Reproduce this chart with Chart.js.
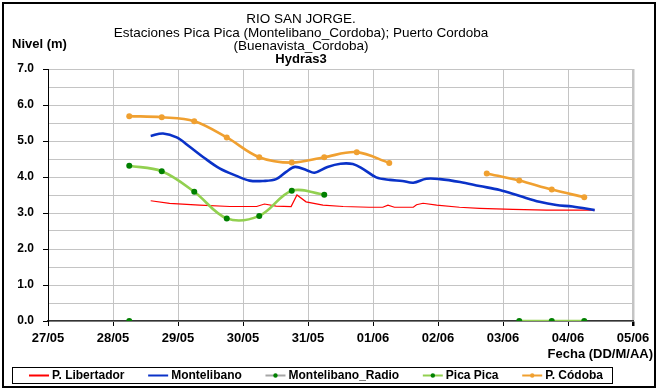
<!DOCTYPE html>
<html>
<head>
<meta charset="utf-8">
<script src="https://cdn.jsdelivr.net/npm/chart.js@4/dist/chart.umd.min.js"></script>
<style>
  html, body { margin: 0; padding: 0; background: #fff; }
  #wrap { width: 658px; height: 389px; position: relative; }
</style>
</head>
<body>
<div id="wrap"><canvas id="grafico" width="658" height="389"></canvas></div>
<script>
// Etiquetas del eje de fechas (un día por división)
const fechas = ['27/05', '28/05', '29/05', '30/05', '31/05', '01/06', '02/06', '03/06', '04/06', '05/06'];

// Tiempos expresados en días contados desde el 27/05 a las 00:00
const tLibertador = [1.58, 1.87, 2.33, 2.80, 3.21, 3.33, 3.51, 3.74, 3.83, 3.97, 4.23, 4.54, 4.94, 5.15, 5.23, 5.33, 5.62, 5.67, 5.77, 5.98, 6.33, 6.64, 7.15, 7.67, 8.41];
const nivelLibertador = [3.34, 3.27, 3.22, 3.18, 3.18, 3.25, 3.19, 3.18, 3.50, 3.31, 3.22, 3.18, 3.16, 3.16, 3.22, 3.16, 3.16, 3.23, 3.27, 3.22, 3.16, 3.13, 3.10, 3.08, 3.08];

const tMontelibano = [1.58, 1.77, 1.98, 2.18, 2.39, 2.64, 2.90, 3.10, 3.31, 3.51, 3.67, 3.80, 3.98, 4.10, 4.30, 4.50, 4.69, 4.85, 5.05, 5.26, 5.45, 5.62, 5.82, 6.03, 6.34, 6.64, 6.95, 7.26, 7.56, 7.82, 8.07, 8.41];
const nivelMontelibano = [5.14, 5.21, 5.10, 4.84, 4.55, 4.24, 4.03, 3.90, 3.89, 3.94, 4.15, 4.28, 4.19, 4.12, 4.28, 4.37, 4.36, 4.22, 3.99, 3.92, 3.89, 3.84, 3.95, 3.94, 3.86, 3.75, 3.64, 3.47, 3.31, 3.22, 3.18, 3.08];

const tRadio = [1.25];
const nivelRadio = [0.0];

const tPicaPica = [1.25, 1.75, 2.25, 2.75, 3.25, 3.75, 4.25, 4.75, 5.25, 5.75, 6.25, 6.75, 7.25, 7.75, 8.25];
const nivelPicaPica = [4.31, 4.16, 3.59, 2.85, 2.92, 3.62, 3.51, null, null, null, null, null, 0.0, 0.0, 0.0];

const tCordoba = [1.25, 1.75, 2.25, 2.75, 3.25, 3.75, 4.25, 4.75, 5.25, 5.75, 6.25, 6.75, 7.25, 7.75, 8.25];
const nivelCordoba = [5.69, 5.66, 5.55, 5.10, 4.55, 4.40, 4.55, 4.69, 4.39, null, null, 4.10, 3.90, 3.65, 3.44];

const FUENTE = '"Liberation Sans", Arial, sans-serif';

function serie(t, v) {
  return t.map((x, i) => ({ x: x, y: v[i] }));
}

// Títulos, rótulos de ejes, leyenda y marco exterior
const decorado = {
  id: 'decorado',
  afterDraw(chart) {
    const ctx = chart.ctx;
    ctx.save();
    ctx.fillStyle = '#000';
    ctx.textAlign = 'center';
    ctx.textBaseline = 'middle';
    ctx.font = '13.5px ' + FUENTE;
    ctx.fillText('RIO SAN JORGE.', 301, 19);
    ctx.fillText('Estaciones Pica Pica (Montelibano_Cordoba); Puerto Cordoba', 301, 33);
    ctx.fillText('(Buenavista_Cordoba)', 301, 46);
    ctx.font = 'bold 13px ' + FUENTE;
    ctx.fillText('Hydras3', 301, 59);

    ctx.textAlign = 'left';
    ctx.font = 'bold 13px ' + FUENTE;
    ctx.fillText('Nivel (m)', 12, 44);
    ctx.textAlign = 'right';
    ctx.fillText('Fecha (DD/M/AA)', 653, 354);

    // Leyenda
    const bx = 12, by = 367, bw = 600, bh = 16;
    ctx.strokeStyle = '#000';
    ctx.lineWidth = 1;
    ctx.strokeRect(bx + 0.5, by + 0.5, bw, bh);
    ctx.font = 'bold 12px ' + FUENTE;
    const muestra = 20, sep = 3;
    const items = chart.data.datasets.map(ds => ({
      texto: ds.label,
      color: ds.borderColor,
      punto: ds.pointRadius > 0 ? ds.pointBackgroundColor : null,
      ancho: muestra + sep + ctx.measureText(ds.label).width
    }));
    const x0 = 29, x1 = 603;
    const total = items.reduce((s, it) => s + it.ancho, 0);
    const hueco = (x1 - x0 - total) / (items.length - 1);
    let x = x0;
    const yc = by + bh / 2 + 0.5;
    ctx.textAlign = 'left';
    items.forEach(it => {
      ctx.strokeStyle = it.color;
      ctx.lineWidth = 2;
      ctx.beginPath();
      ctx.moveTo(x, yc);
      ctx.lineTo(x + muestra, yc);
      ctx.stroke();
      if (it.punto) {
        ctx.fillStyle = it.punto;
        ctx.beginPath();
        ctx.arc(x + muestra / 2, yc, 2.2, 0, Math.PI * 2);
        ctx.fill();
      }
      ctx.fillStyle = '#000';
      ctx.fillText(it.texto, x + muestra + sep, yc + 0.5);
      x += it.ancho + hueco;
    });

    // Marco exterior
    ctx.strokeStyle = '#000';
    ctx.lineWidth = 2;
    ctx.strokeRect(3, 3, 652, 384);
    ctx.restore();
  }
};

new Chart(document.getElementById('grafico'), {
  type: 'line',
  data: {
    datasets: [
      {
        label: 'P. Libertador',
        data: serie(tLibertador, nivelLibertador),
        borderColor: '#ff0000', borderWidth: 1.2,
        pointRadius: 0, tension: 0, order: 5
      },
      {
        label: 'Montelibano',
        data: serie(tMontelibano, nivelMontelibano),
        borderColor: '#0a32c8', borderWidth: 2.6,
        pointRadius: 0, tension: 0.35, order: 4
      },
      {
        label: 'Montelibano_Radio',
        data: serie(tRadio, nivelRadio),
        borderColor: '#a6a6a6', borderWidth: 2.5,
        pointRadius: 3, pointBackgroundColor: '#008000', pointBorderWidth: 0,
        tension: 0.35, order: 3
      },
      {
        label: 'Pica Pica',
        data: serie(tPicaPica, nivelPicaPica),
        borderColor: '#92d050', borderWidth: 2.6,
        pointRadius: 3, pointBackgroundColor: '#008000', pointBorderWidth: 0,
        tension: 0.35, spanGaps: false, order: 2
      },
      {
        label: 'P. Códoba',
        data: serie(tCordoba, nivelCordoba),
        borderColor: '#f0a030', borderWidth: 2.6,
        pointRadius: 3, pointBackgroundColor: '#f0a030', pointBorderWidth: 0,
        tension: 0.35, spanGaps: false, order: 1
      }
    ]
  },
  options: {
    responsive: false,
    animation: false,
    devicePixelRatio: 1,
    layout: { padding: { left: 0, top: 69, right: 25, bottom: 0 } },
    plugins: {
      legend: { display: false },
      title: { display: false },
      tooltip: { enabled: false }
    },
    scales: {
      x: {
        type: 'linear',
        min: 0, max: 9,
        afterFit: s => { s.height = 68; },
        ticks: {
          stepSize: 1,
          autoSkip: false,
          maxRotation: 0,
          padding: 5,
          color: '#000',
          font: { family: FUENTE, size: 13, weight: 'bold' },
          callback: v => fechas[v]
        },
        grid: {
          color: '#c4c4c4',
          lineWidth: c => (c.index === 9 ? 2.5 : 1),
          tickColor: '#000',
          tickLength: 5
        },
        border: { color: '#333', width: 1.5 }
      },
      y: {
        min: 0, max: 7,
        afterFit: s => { s.width = 48; },
        ticks: {
          stepSize: 0.5,
          padding: 9,
          color: '#000',
          font: { family: FUENTE, size: 12, weight: 'bold' },
          callback: v => (Number.isInteger(v) ? v.toFixed(1) : '')
        },
        grid: {
          color: '#c4c4c4',
          lineWidth: 1,
          tickColor: c => (Number.isInteger(c.tick.value) ? '#000' : 'rgba(0,0,0,0)'),
          tickLength: 5
        },
        border: { color: '#000', width: 1 }
      }
    }
  },
  plugins: [decorado]
});
</script>
</body>
</html>
